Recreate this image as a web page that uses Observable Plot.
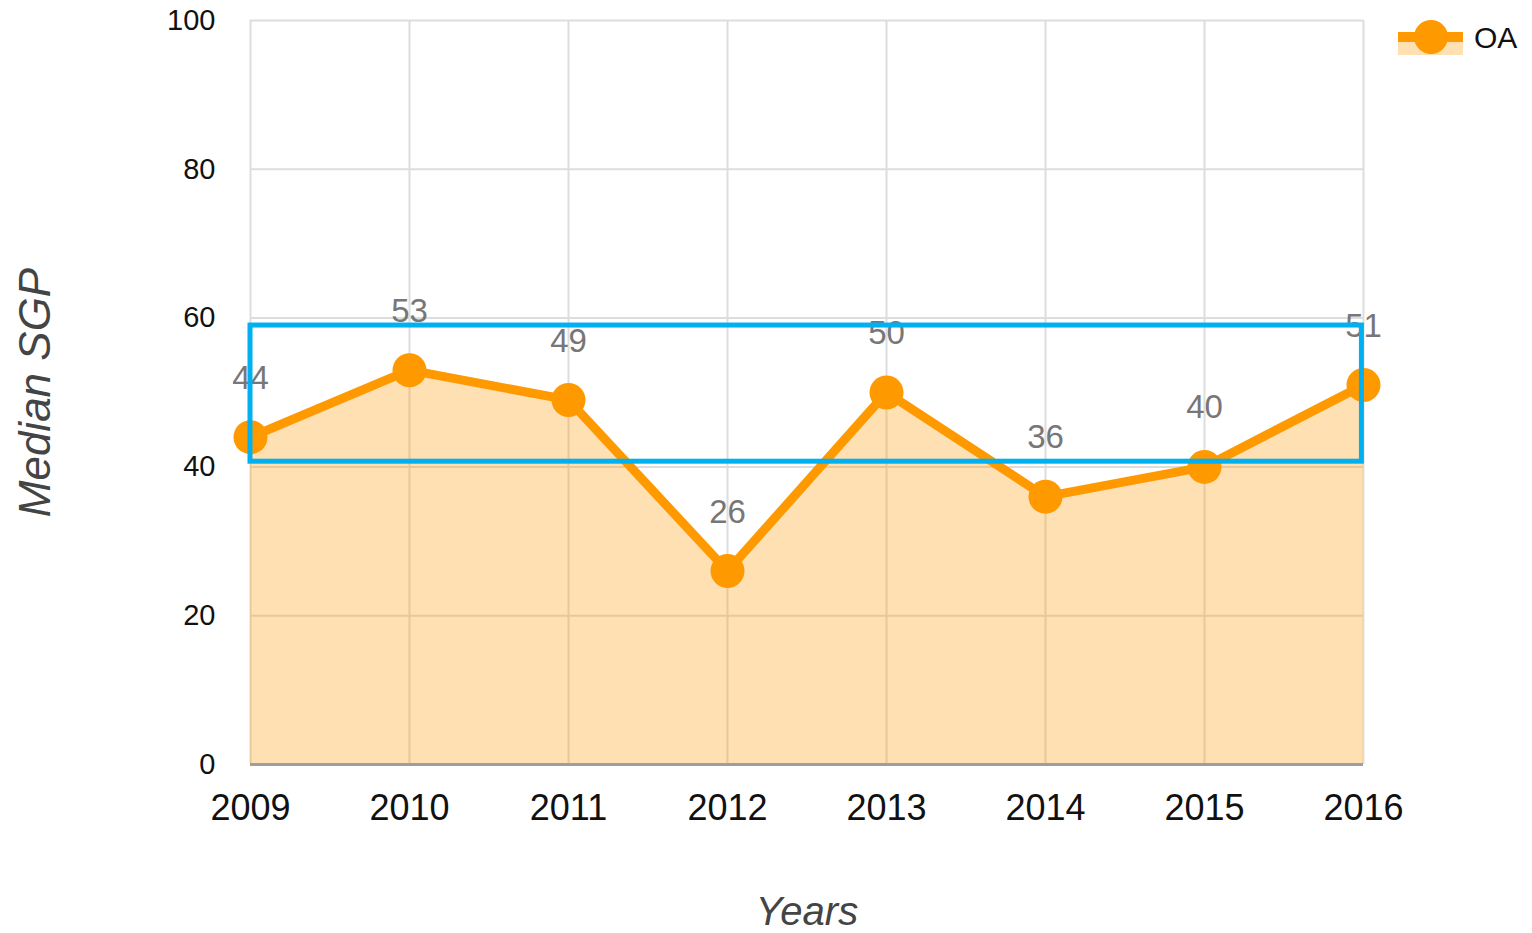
<!DOCTYPE html>
<html><head><meta charset="utf-8">
<script src="https://cdn.jsdelivr.net/npm/d3@7"></script>
<script src="https://cdn.jsdelivr.net/npm/@observablehq/plot@0.6"></script>
<style>
body{margin:0;background:#fff;font-family:"Liberation Sans",Arial,sans-serif;}
#wrap{position:relative;width:1532px;height:933px;}
#legend{position:absolute;left:1392px;top:12px;}
</style></head><body><div id="wrap"></div>
<script>
const years = [2009, 2010, 2011, 2012, 2013, 2014, 2015, 2016];
const values = [44, 53, 49, 26, 50, 36, 40, 51];
const yTicks = [0, 20, 40, 60, 80, 100];
const seriesName = "OA";
const xTitle = "Years";
const yTitle = "Median SGP";
const bandYears = [2009, 2015.99];
const bandValues = [40.7, 59];

const orange = "#ff9900";
const data = years.map((y, i) => ({year: y, value: values[i]}));
const band = [{x1: bandYears[0], x2: bandYears[1], y1: bandValues[0], y2: bandValues[1]}];

const chart = Plot.plot({
  width: 1532, height: 933,
  marginLeft: 250, marginRight: 169, marginTop: 20, marginBottom: 169,
  style: {fontFamily: '"Liberation Sans", Arial, sans-serif', background: "#fff", overflow: "visible"},
  x: {domain: [2009, 2016], ticks: years, tickFormat: d => String(d)},
  y: {domain: [0, 100], ticks: yTicks},
  marks: [
    Plot.gridX(years, {stroke: "#dddddd", strokeOpacity: 1, strokeWidth: 2}),
    Plot.gridY(yTicks, {stroke: "#dddddd", strokeOpacity: 1, strokeWidth: 2}),
    Plot.areaY(data, {x: "year", y: "value", fill: orange, fillOpacity: 0.3}),
    Plot.ruleY([0], {stroke: "#9e9e9e", strokeWidth: 3}),
    Plot.line(data, {x: "year", y: "value", stroke: orange, strokeWidth: 9, strokeLinejoin: "round"}),
    Plot.dot(data, {x: "year", y: "value", r: 17, fill: orange, stroke: "none"}),
    Plot.text(data, {x: "year", y: "value", text: d => String(d.value), dy: -59, fill: "#777", fontSize: 33}),
    Plot.axisX({ticks: years, tickFormat: d => String(d), tickSize: 0, tickPadding: 30, fontSize: 36, fill: "#111", label: null}),
    Plot.axisY({ticks: yTicks, tickSize: 0, tickPadding: 35, fontSize: 29, fill: "#111", label: null}),
    Plot.text([xTitle], {frameAnchor: "bottom", dy: 160, fontSize: 40, fontStyle: "italic", fill: "#444"}),
    Plot.text([yTitle], {frameAnchor: "left", textAnchor: "middle", dx: -215, rotate: -90, fontSize: 44, fontStyle: "italic", fill: "#444"}),
    Plot.rect(band, {x1: "x1", x2: "x2", y1: "y1", y2: "y2", fill: "none", stroke: "#00b0f0", strokeWidth: 5})
  ]
});
const wrap = document.getElementById("wrap");
wrap.appendChild(chart);

// legend
const lg = d3.create("svg").attr("id", "legend").attr("width", 140).attr("height", 50);
lg.append("rect").attr("x", 6).attr("y", 25).attr("width", 65).attr("height", 18).attr("fill", orange).attr("fill-opacity", 0.3);
lg.append("line").attr("x1", 6).attr("x2", 71).attr("y1", 25).attr("y2", 25).attr("stroke", orange).attr("stroke-width", 10);
lg.append("circle").attr("cx", 39).attr("cy", 25).attr("r", 17).attr("fill", orange);
lg.append("text").attr("x", 82).attr("y", 25).attr("dy", "0.36em").attr("font-size", 30)
  .attr("font-family", '"Liberation Sans", Arial, sans-serif').attr("fill", "#111").text(seriesName);
wrap.appendChild(lg.node());
</script></body></html>
